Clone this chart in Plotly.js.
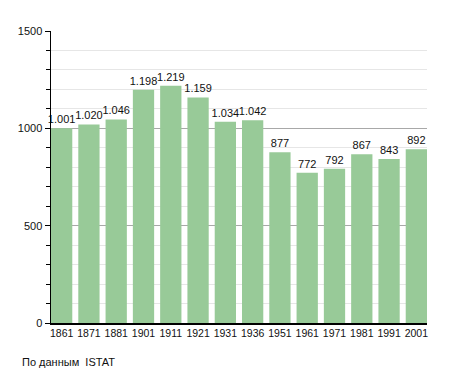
<!DOCTYPE html>
<html>
<head>
<meta charset="utf-8">
<script src="https://cdn.plot.ly/plotly-3.0.1.min.js"></script>
<style>html,body{margin:0;padding:0;background:#fff;}#chart{width:455px;height:373px;}</style>
</head>
<body>
<div id="chart"></div>
<script>
const years = ["1861","1871","1881","1901","1911","1921","1931","1936","1951","1961","1971","1981","1991","2001"];
const population = [1001,1020,1046,1198,1219,1159,1034,1042,877,772,792,867,843,892];
const valueLabels = population.map(v => v >= 1000 ? Math.floor(v/1000) + "." + String(v%1000).padStart(3,"0") : String(v));
const yTickVals = [0,500,1000,1500];
const sourceNote = "По данным  ISTAT";

const font = "Liberation Sans, Arial, sans-serif";
Plotly.newPlot("chart", [{
  type: "bar",
  x: years,
  y: population,
  text: valueLabels,
  textposition: "outside",
  constraintext: "none",
  cliponaxis: false,
  textfont: {family: font, size: 11, color: "#111"},
  marker: {color: "#98ca98", line: {width: 0}},
  width: 0.78,
  hoverinfo: "none"
}], {
  width: 455, height: 373,
  margin: {l: 51, r: 28, t: 31, b: 50},
  paper_bgcolor: "#fff", plot_bgcolor: "#fff",
  showlegend: false,
  font: {family: font, size: 11, color: "#111"},
  xaxis: {
    type: "category",
    range: [-0.39, 13.39],
    showgrid: false,
    showline: true, linecolor: "#000", linewidth: 1.5,
    ticks: "", tickfont: {family: font, size: 10.5, color: "#111"},
    fixedrange: true
  },
  yaxis: {
    range: [0, 1500],
    tickvals: yTickVals,
    ticks: "outside", ticklen: 5, tickcolor: "#000", tickwidth: 1,
    showline: true, linecolor: "#000", linewidth: 1.5,
    showgrid: true, gridcolor: "#a8a8a8", gridwidth: 1,
    zeroline: false,
    minor: {dtick: 100, ticks: "outside", ticklen: 4, tickcolor: "#000", showgrid: true, gridcolor: "#e6e6e6", gridwidth: 1},
    tickfont: {family: font, size: 11, color: "#111"},
    fixedrange: true
  },
  annotations: [{
    text: sourceNote, xref: "paper", yref: "paper",
    x: -31/376, y: -39/292, xanchor: "left", yanchor: "middle",
    showarrow: false, font: {family: font, size: 11, color: "#111"}
  }]
}, {staticPlot: true});
</script>
</body>
</html>
